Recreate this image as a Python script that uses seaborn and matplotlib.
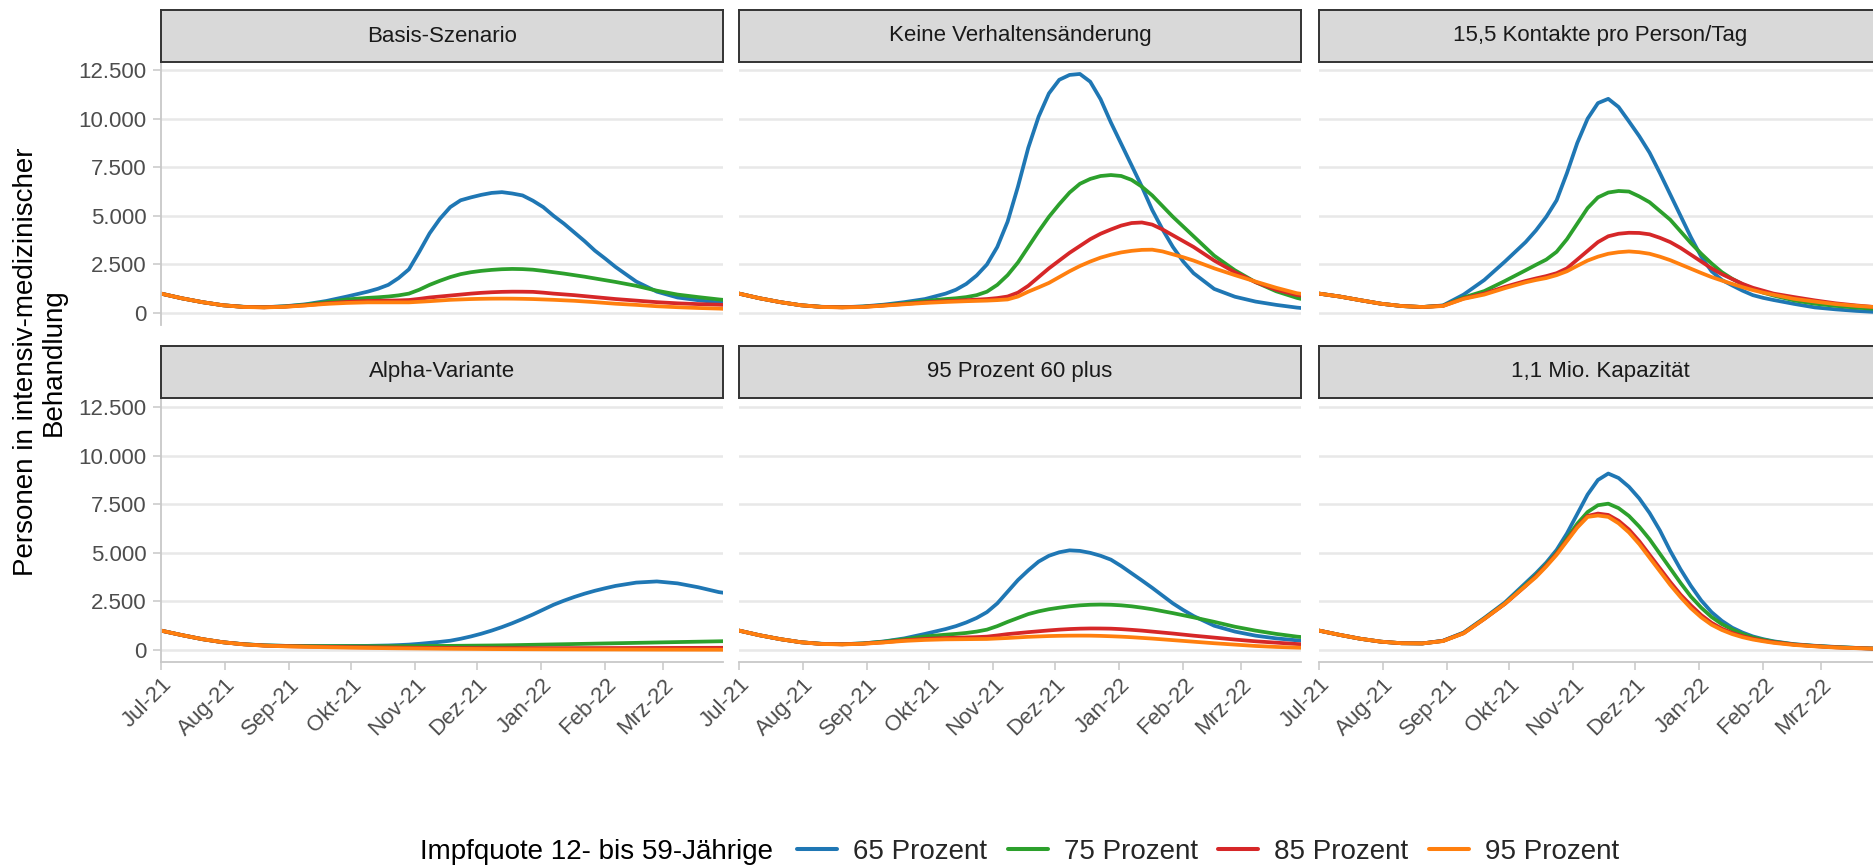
import numpy as np
import pandas as pd
import matplotlib
matplotlib.use("Agg")
import matplotlib.pyplot as plt
from matplotlib.lines import Line2D
from matplotlib.ticker import FixedLocator, FixedFormatter, FuncFormatter
import seaborn as sns

# ---------------------------------------------------------------------------
# Data: ICU occupancy by scenario and vaccination rate (12-59 year olds).
# Days after 1 July 2021: every 10 days, every 5 days around the winter wave,
# last point 30 March 2022.
# ---------------------------------------------------------------------------
tage = [0, 10, 20, 30, 40, 50, 60, 70, 80, 90,
        100, 105, 110, 115, 120, 125, 130, 135, 140, 145, 150, 155, 160, 165, 170,
        175, 180, 185, 190, 195, 200, 205, 210, 215, 220,
        230, 240, 250, 260, 270, 272]
startdatum = "2021-07-01"

szenarien = ["Basis-Szenario", "Keine Verhaltensänderung", "15,5 Kontakte pro Person/Tag",
             "Alpha-Variante", "95 Prozent 60 plus", "1,1 Mio. Kapazität"]
quoten = ["65 Prozent", "75 Prozent", "85 Prozent", "95 Prozent"]
farben = ["#1f77b4", "#2ca02c", "#d62728", "#ff7f0e"]

monats_ticks = ["2021-07-01", "2021-08-01", "2021-09-01", "2021-10-01", "2021-11-01",
                "2021-12-01", "2022-01-01", "2022-02-01", "2022-03-01"]
monats_labels = ["Jul-21", "Aug-21", "Sep-21", "Okt-21", "Nov-21",
                 "Dez-21", "Jan-22", "Feb-22", "Mrz-22"]
y_ticks = [0, 2500, 5000, 7500, 10000, 12500]

basis_65 = [1000, 760, 560, 400, 320, 300, 350, 450, 620, 850,
            1100, 1250, 1450, 1800, 2250, 3150, 4100, 4850, 5450, 5800, 5950, 6080, 6180, 6220, 6150,
            6050, 5780, 5450, 5000, 4600, 4150, 3700, 3210, 2800, 2370,
            1620, 1100, 800, 660, 540, 530]
basis_75 = [1000, 760, 560, 400, 320, 300, 340, 430, 560, 700,
            780, 810, 850, 910, 1000, 1200, 1450, 1660, 1850, 2000, 2100, 2170, 2220, 2255, 2270,
            2260, 2230, 2170, 2100, 2030, 1950, 1870, 1780, 1690, 1600,
            1400, 1150, 950, 820, 700, 680]
basis_85 = [1000, 760, 560, 400, 315, 295, 330, 400, 500, 570,
            620, 630, 640, 650, 670, 730, 800, 850, 900, 950, 1000, 1040, 1070, 1090, 1100,
            1098, 1090, 1050, 1000, 960, 920, 870, 820, 770, 720,
            640, 560, 500, 460, 430, 420]
basis_95 = [1000, 760, 560, 400, 310, 290, 320, 390, 470, 520,
            550, 550, 550, 550, 550, 580, 610, 645, 680, 700, 720, 732, 740, 742, 740,
            732, 720, 700, 680, 655, 630, 595, 560, 520, 480,
            420, 350, 300, 260, 230, 220]

keine_65 = [1000, 760, 560, 400, 320, 300, 340, 430, 560, 720,
            1000, 1200, 1500, 1930, 2500, 3400, 4700, 6500, 8500, 10100, 11300, 12000, 12250, 12300, 11900,
            11000, 9800, 8700, 7600, 6500, 5300, 4300, 3400, 2650, 2050,
            1240, 840, 590, 420, 280, 260]
keine_75 = [1000, 760, 560, 400, 320, 300, 330, 400, 500, 620,
            720, 760, 820, 920, 1100, 1450, 1950, 2600, 3400, 4200, 4950, 5600, 6200, 6650, 6900,
            7050, 7100, 7050, 6850, 6500, 6050, 5500, 4950, 4450, 3950,
            2950, 2200, 1590, 1120, 780, 730]
keine_85 = [1000, 760, 560, 400, 315, 295, 320, 390, 470, 550,
            610, 630, 660, 690, 720, 770, 850, 1050, 1400, 1850, 2300, 2700, 3100, 3450, 3800,
            4080, 4300, 4500, 4630, 4660, 4550, 4300, 4000, 3700, 3400,
            2700, 2100, 1590, 1200, 930, 900]
keine_95 = [1000, 760, 560, 400, 310, 290, 310, 380, 450, 520,
            570, 590, 610, 625, 640, 665, 700, 850, 1100, 1320, 1550, 1850, 2150, 2420, 2650,
            2850, 3000, 3120, 3200, 3250, 3260, 3170, 3020, 2870, 2700,
            2300, 1950, 1620, 1300, 1020, 990]

kontakte_65 = [1000, 850, 660, 480, 360, 310, 390, 950, 1700, 2650,
               3650, 4250, 4950, 5800, 7200, 8750, 10000, 10800, 11020, 10600, 9860, 9100, 8250, 7200, 6100,
               5000, 3900, 2900, 2150, 1700, 1420, 1150, 920, 780, 670,
               470, 290, 190, 110, 50, 40]
kontakte_75 = [1000, 850, 660, 480, 360, 310, 380, 800, 1130, 1650,
               2200, 2480, 2750, 3150, 3800, 4600, 5400, 5950, 6200, 6280, 6250, 6000, 5700, 5250, 4800,
               4200, 3600, 3050, 2550, 2100, 1760, 1480, 1250, 1050, 900,
               650, 480, 370, 280, 210, 200]
kontakte_85 = [1000, 850, 660, 480, 360, 310, 370, 750, 1000, 1350,
               1650, 1780, 1900, 2050, 2300, 2750, 3200, 3650, 3950, 4080, 4130, 4120, 4050, 3870, 3650,
               3350, 3000, 2650, 2300, 2000, 1750, 1500, 1300, 1150, 1000,
               820, 650, 500, 390, 300, 290]
kontakte_95 = [1000, 850, 660, 480, 360, 310, 360, 730, 950, 1280,
               1580, 1700, 1800, 1950, 2150, 2430, 2700, 2900, 3050, 3130, 3170, 3130, 3050, 2900, 2720,
               2500, 2280, 2060, 1850, 1670, 1500, 1330, 1180, 1050, 940,
               730, 590, 460, 370, 300, 290]

alpha_65 = [1000, 770, 560, 400, 300, 240, 215, 205, 205, 210,
            215, 225, 235, 255, 280, 320, 370, 420, 480, 580, 700, 840, 1000, 1180, 1380,
            1600, 1830, 2080, 2330, 2540, 2730, 2900, 3050, 3180, 3300,
            3470, 3530, 3430, 3230, 2980, 2950]
alpha_75 = [1000, 770, 560, 400, 300, 240, 215, 205, 200, 200,
            200, 200, 200, 202, 205, 207, 210, 212, 215, 220, 225, 230, 235, 242, 250,
            260, 270, 280, 290, 300, 310, 320, 330, 340, 350,
            370, 390, 410, 430, 450, 455]
alpha_85 = [1000, 770, 560, 400, 295, 230, 200, 180, 165, 150,
            140, 135, 130, 125, 120, 115, 110, 107, 105, 102, 100, 99, 98, 97, 97,
            97, 97, 97, 98, 99, 100, 101, 102, 103, 104,
            106, 108, 110, 112, 115, 115]
alpha_95 = [1000, 770, 560, 400, 290, 225, 190, 165, 145, 125,
            110, 102, 95, 90, 85, 80, 75, 70, 65, 61, 58, 54, 50, 47, 45,
            42, 40, 38, 36, 34, 33, 31, 30, 29, 28,
            25, 22, 20, 18, 16, 15]

plus_65 = [1000, 760, 560, 400, 320, 300, 340, 440, 600, 830,
           1080, 1230, 1420, 1650, 1950, 2400, 3000, 3600, 4100, 4550, 4850, 5030, 5130, 5100, 5000,
           4850, 4650, 4320, 3950, 3580, 3200, 2800, 2400, 2060, 1750,
           1250, 950, 740, 600, 500, 490]
plus_75 = [1000, 760, 560, 400, 320, 300, 340, 430, 560, 700,
           790, 830, 880, 950, 1050, 1230, 1450, 1650, 1850, 1990, 2100, 2180, 2250, 2300, 2330,
           2340, 2330, 2300, 2250, 2180, 2100, 2000, 1900, 1790, 1680,
           1450, 1200, 1000, 830, 690, 670]
plus_85 = [1000, 760, 560, 400, 315, 295, 330, 400, 500, 570,
           620, 635, 650, 665, 690, 750, 820, 870, 920, 965, 1010, 1050, 1080, 1100, 1110,
           1108, 1100, 1075, 1040, 1000, 950, 900, 850, 795, 740,
           640, 540, 450, 380, 310, 300]
plus_95 = [1000, 760, 560, 400, 310, 290, 320, 390, 470, 520,
           550, 555, 560, 565, 570, 595, 620, 650, 680, 700, 720, 732, 740, 742, 740,
           728, 710, 688, 660, 625, 590, 550, 510, 470, 430,
           350, 280, 210, 160, 125, 120]

kap_65 = [1000, 780, 580, 430, 350, 340, 480, 900, 1650, 2450,
          3450, 3950, 4500, 5150, 6000, 7000, 8000, 8750, 9080, 8850, 8400, 7800, 7050, 6150, 5100,
          4150, 3300, 2550, 1950, 1500, 1150, 900, 700, 560, 450,
          300, 220, 160, 110, 70, 65]
kap_75 = [1000, 780, 580, 430, 350, 340, 470, 880, 1620, 2400,
          3350, 3850, 4400, 5000, 5750, 6500, 7100, 7450, 7530, 7300, 6900, 6350, 5700, 4950, 4200,
          3450, 2750, 2180, 1700, 1330, 1060, 830, 650, 530, 430,
          290, 210, 150, 110, 70, 65]
kap_85 = [1000, 780, 580, 430, 350, 340, 470, 870, 1600, 2380,
          3300, 3800, 4350, 4950, 5650, 6350, 6900, 7020, 6950, 6650, 6200, 5600, 4900, 4200, 3500,
          2850, 2300, 1800, 1400, 1100, 880, 710, 580, 480, 400,
          280, 200, 140, 100, 70, 65]
kap_95 = [1000, 780, 580, 430, 350, 340, 460, 860, 1600, 2380,
          3300, 3750, 4300, 4900, 5600, 6300, 6850, 6920, 6850, 6520, 6050, 5450, 4750, 4050, 3350,
          2720, 2150, 1680, 1300, 1030, 820, 660, 540, 450, 370,
          260, 190, 130, 95, 65, 60]

reihen = {
    "Basis-Szenario": [basis_65, basis_75, basis_85, basis_95],
    "Keine Verhaltensänderung": [keine_65, keine_75, keine_85, keine_95],
    "15,5 Kontakte pro Person/Tag": [kontakte_65, kontakte_75, kontakte_85, kontakte_95],
    "Alpha-Variante": [alpha_65, alpha_75, alpha_85, alpha_95],
    "95 Prozent 60 plus": [plus_65, plus_75, plus_85, plus_95],
    "1,1 Mio. Kapazität": [kap_65, kap_75, kap_85, kap_95],
}

datum = pd.to_datetime(startdatum) + pd.to_timedelta(tage, unit="D")
zeilen = []
for sz in szenarien:
    for q, werte in zip(quoten, reihen[sz]):
        zeilen.append(pd.DataFrame({"szenario": sz, "quote": q, "datum": datum, "wert": werte}))
df = pd.concat(zeilen, ignore_index=True)

# ---------------------------------------------------------------------------
# Styling
# ---------------------------------------------------------------------------
sns.set_theme(style="white")
plt.rcParams["font.family"] = ["Liberation Sans", "DejaVu Sans"]

W, H = 1873, 867
fig = plt.figure(figsize=(W / 100, H / 100), dpi=100)
fig.patch.set_facecolor("white")


def box(left, top, width, height):
    return [left / W, 1 - (top + height) / H, width / W, height / H]


col_left = [161, 739, 1319]
panel_w = 562
row_panel_top = [62, 399]
panel_h = 263
row_strip_top = [10, 346]
strip_h = 52

x_min = pd.to_datetime(startdatum)
x_max = datum[-1]
tick_dates = pd.to_datetime(monats_ticks)

grid_col = "#E8E8E8"
axis_col = "#C8C8C8"
tick_text = "#4D4D4D"

tausender = FuncFormatter(lambda v, _: f"{int(v):,}".replace(",", "."))

for i, sz in enumerate(szenarien):
    r, c = divmod(i, 3)
    ax = fig.add_axes(box(col_left[c], row_panel_top[r], panel_w, panel_h))
    sub = df[df["szenario"] == sz]
    sns.lineplot(data=sub, x="datum", y="wert", hue="quote", hue_order=quoten,
                 palette=farben, linewidth=2.7, legend=False, estimator=None,
                 ax=ax)
    for ln in ax.get_lines():
        ln.set_solid_joinstyle("round")
        ln.set_solid_capstyle("round")
    ax.set_xlim(x_min, x_max)
    ax.set_ylim(-615, 12915)
    ax.set_xlabel("")
    ax.set_ylabel("")
    ax.set_facecolor("white")
    ax.set_axisbelow(True)
    ax.yaxis.set_major_locator(FixedLocator(y_ticks))
    ax.yaxis.set_major_formatter(tausender)
    ax.yaxis.grid(True, color=grid_col, linewidth=1.8)
    ax.xaxis.grid(False)
    for s in ["top", "right"]:
        ax.spines[s].set_visible(False)

    # y axis only on the first column
    if c == 0:
        ax.spines["left"].set_color(axis_col)
        ax.spines["left"].set_linewidth(1.3)
        ax.tick_params(axis="y", length=5.5, width=1.1, color=axis_col,
                       labelsize=16, labelcolor=tick_text, pad=5, left=True)
    else:
        ax.spines["left"].set_visible(False)
        ax.tick_params(axis="y", left=False, labelleft=False)

    # x axis only on the bottom row
    ax.xaxis.set_major_locator(FixedLocator(matplotlib.dates.date2num(tick_dates)))
    if r == 1:
        ax.xaxis.set_major_formatter(FixedFormatter(monats_labels))
        ax.spines["bottom"].set_color(axis_col)
        ax.spines["bottom"].set_linewidth(1.3)
        ax.tick_params(axis="x", length=5.8, width=1.1, color=axis_col,
                       labelsize=16, labelcolor=tick_text, pad=3, bottom=True)
        for lab in ax.get_xticklabels():
            lab.set_rotation(45)
            lab.set_ha("right")
            lab.set_va("top")
            lab.set_rotation_mode("anchor")
    else:
        ax.spines["bottom"].set_visible(False)
        ax.tick_params(axis="x", bottom=False, labelbottom=False)

    # facet strip
    sax = fig.add_axes(box(col_left[c], row_strip_top[r], panel_w, strip_h))
    sax.set_facecolor("#D9D9D9")
    sax.set_xticks([])
    sax.set_yticks([])
    for s in sax.spines.values():
        s.set_visible(True)
        s.set_color("#333333")
        s.set_linewidth(1.4)
    sax.text(0.5, 0.5, sz, ha="center", va="center", fontsize=16,
             color="#1A1A1A", transform=sax.transAxes)

# shared y-axis title
fig.text(40 / W, 1 - 362 / H, "Personen in intensiv-medizinischer\nBehandlung",
         rotation=90, ha="center", va="center", fontsize=20, color="black",
         multialignment="center", linespacing=1.1)

# legend along the bottom
fig.text(420 / W, 1 - 852 / H, "Impfquote 12- bis 59-Jährige", ha="left",
         va="center", fontsize=20, color="black")
handles = [Line2D([0], [0], color=f, linewidth=2.9) for f in farben]
fig.legend(handles, quoten, loc="center left",
           bbox_to_anchor=(797 / W, 1 - 852 / H), ncol=4, frameon=False,
           fontsize=20, handlelength=1.44, handletextpad=0.57,
           columnspacing=0.75, borderpad=0, borderaxespad=0)

fig.savefig("out.png", dpi=100, facecolor="white")
